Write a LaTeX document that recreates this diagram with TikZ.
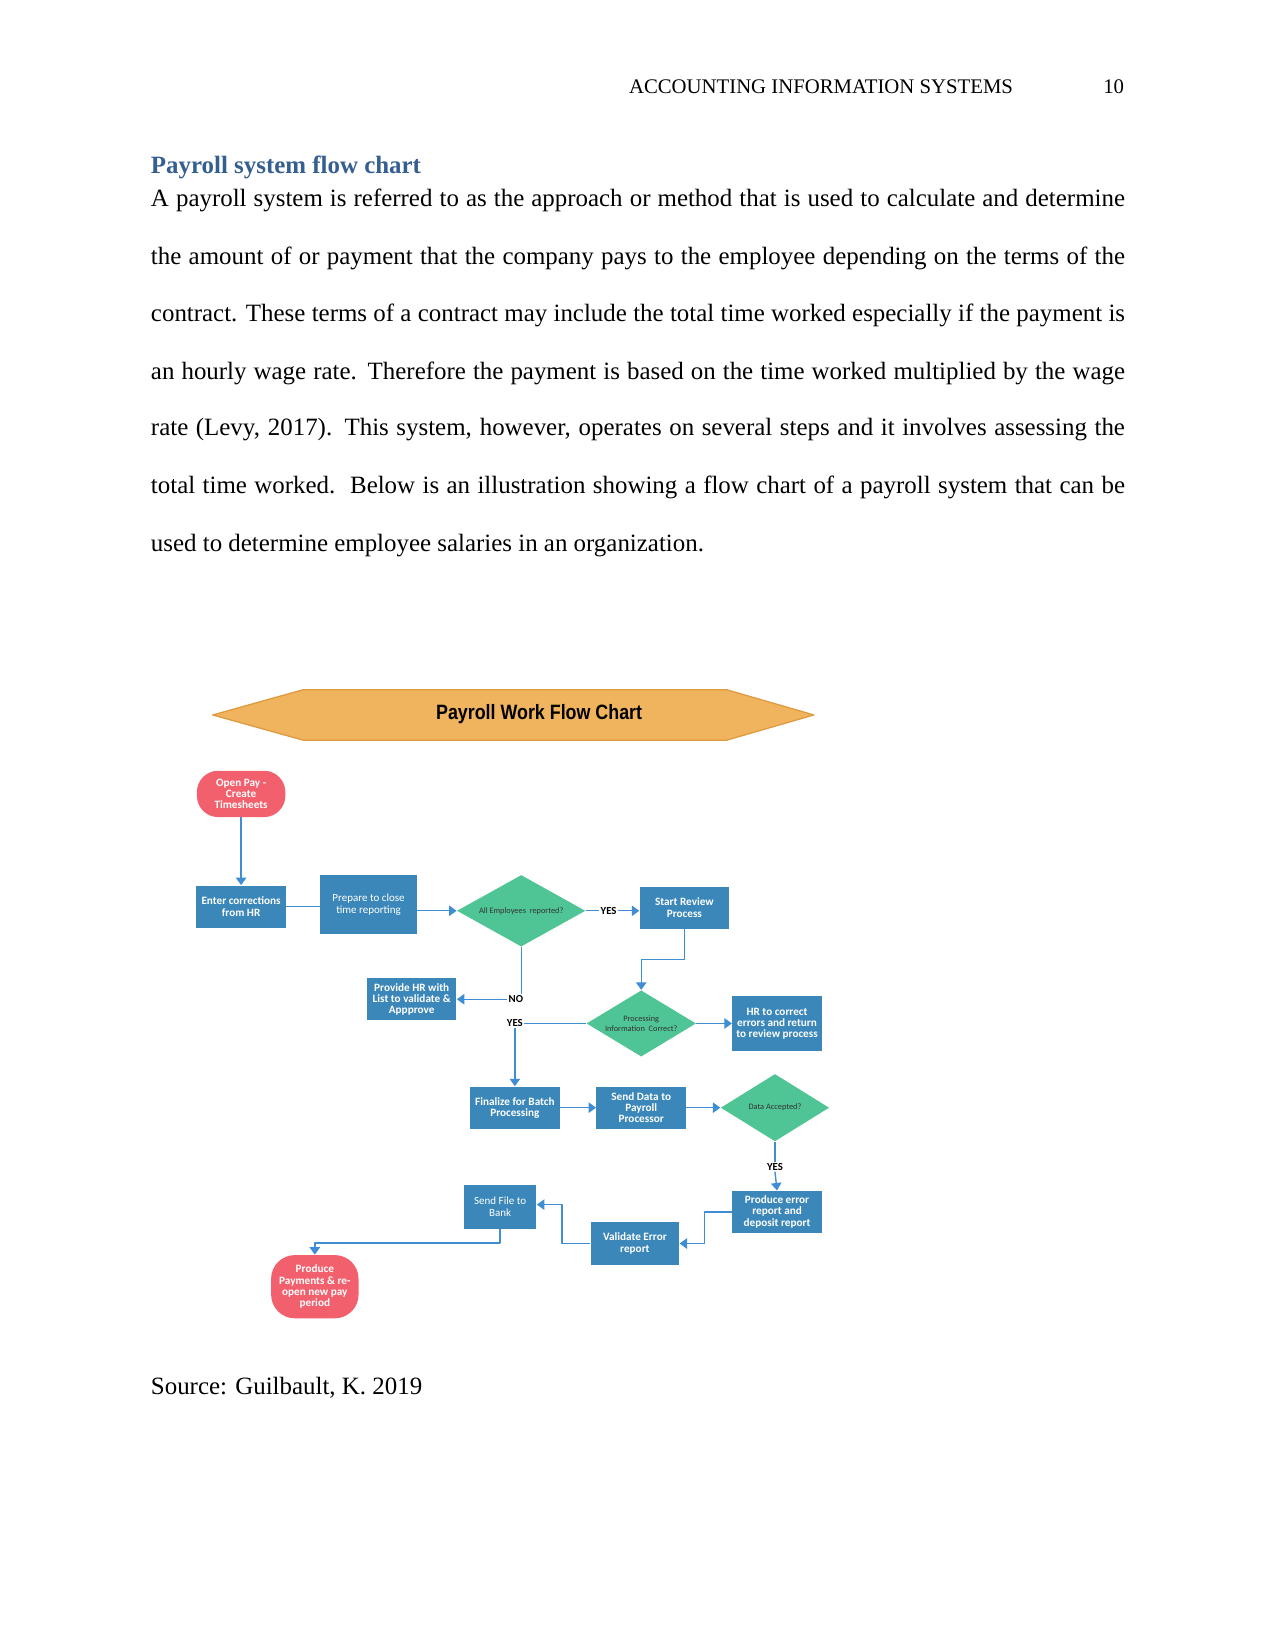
\documentclass[tikz,border=0pt]{standalone}
\usepackage{fontspec}
\setmainfont{Liberation Serif}
\newfontfamily\chartfont{Carlito}
\newfontfamily\bannerfont{Liberation Sans}
\usepackage{xcolor}
\usetikzlibrary{arrows.meta,calc,shapes.geometric}
\definecolor{boxblue}{HTML}{3B87B9}
\definecolor{mintgreen}{HTML}{4FC495}
\definecolor{pinkred}{HTML}{F2606D}
\definecolor{flowblue}{HTML}{3F8DD2}
\definecolor{bannerfill}{HTML}{F0B35E}
\definecolor{bannerline}{HTML}{DD9A3E}
\definecolor{headblue}{HTML}{365F91}
\newcommand{\bodyline}[1]{\makebox[164.9mm][s]{#1}}

\begin{document}
\begin{tikzpicture}[x=0.17827mm,y=-0.17827mm,>={Triangle[length=3.6pt,width=5pt]},line join=round,
  proc/.style={rectangle,fill=boxblue,text=white,align=center,inner sep=1pt,
    font=\chartfont\bfseries\fontsize{5.4}{5.4}\selectfont,minimum width=15.15mm,minimum height=7.13mm},
  plain/.style={proc,font=\chartfont\fontsize{5.3}{6}\selectfont},
  terminal/.style={proc,fill=pinkred,rounded corners=3.6mm},
  decision/.style={diamond,fill=mintgreen,text=black!80,align=center,inner sep=0pt,
    font=\chartfont\fontsize{4}{4.8}\selectfont},
  answer/.style={inner sep=0.5pt,font=\chartfont\bfseries\fontsize{5.2}{5.2}\selectfont},
  flow/.style={->,flowblue,line width=0.65pt},
  link/.style={flowblue,line width=0.65pt},
  bodytext/.style={anchor=base west,inner sep=0pt,font=\fontsize{12}{14}\selectfont}]
  \fill[white] (0,0) rectangle (1211,1568);
  \useasboundingbox (0,0) rectangle (1211,1568);

  \node[anchor=base west,inner sep=0pt,font=\fontsize{10}{12}\selectfont] (header) at (597,89) {ACCOUNTING INFORMATION SYSTEMS};
  \node[anchor=base east,inner sep=0pt,font=\fontsize{10}{12}\selectfont] (pagenum) at (1068,89) {10};
  \node[anchor=base west,inner sep=0pt,font=\fontsize{12}{14}\selectfont\bfseries,text=headblue] (heading) at (143,165) {Payroll system flow chart};
  \node[bodytext] (line1) at (143,196) {\bodyline{A payroll system is referred to as the approach or method that is used to calculate and determine}};
  \node[bodytext] (line2) at (143,251) {\bodyline{the amount of or payment that the company pays to the employee depending on the terms of the}};
  \node[bodytext] (line3) at (143,305) {\bodyline{contract. These terms of a contract may include the total time worked especially if the payment is}};
  \node[bodytext] (line4) at (143,360) {\bodyline{an hourly wage rate. Therefore the payment is based on the time worked multiplied by the wage}};
  \node[bodytext] (line5) at (143,414) {\bodyline{rate (Levy, 2017). This system, however, operates on several steps and it involves assessing the}};
  \node[bodytext] (line6) at (143,469) {\bodyline{total time worked.\ \ Below is an illustration showing a flow chart of a payroll system that can be}};
  \node[bodytext] (line7) at (143,524) {used to determine employee salaries in an organization.};

  \draw[fill=bannerfill,draw=bannerline,line width=0.6pt] (202,679) -- (288,655) -- (690,655) -- (773,679) -- (690,703) -- (288,703) -- cycle;
  \node[font=\bannerfont\bfseries\fontsize{10}{11}\selectfont] (banner) at (512,678) {\scalebox{0.86}[1]{Payroll Work Flow Chart}};

  \node[terminal,minimum width=14.97mm,minimum height=7.84mm] (openpay) at (229,754) {Open Pay -\\Create\\Timesheets};
  \node[proc] (enter) at (229,861) {Enter corrections\\from HR};
  \node[plain,minimum width=16.4mm,minimum height=9.98mm] (prepare) at (350,859) {Prepare to close\\time reporting};
  \node[decision,shape aspect=1.8,minimum width=21.75mm,minimum height=12.12mm] (allemp) at (495,865) {All Employees\ \ reported?};
  \node[answer] (yesone) at (578,865) {YES};
  \node[proc] (start) at (650,862) {Start Review\\Process};
  \node[answer] (no) at (490,949) {NO};
  \node[proc] (provide) at (391,949) {Provide HR with\\List to validate \&\\Appprove};
  \node[decision,shape aspect=1.65,minimum width=18.54mm,minimum height=11.23mm] (procinfo) at (609,972) {Processing\\Information\ \ Correct?};
  \node[answer] (yestwo) at (489,972) {YES};
  \node[proc,minimum height=9.27mm] (hrfix) at (738,972) {HR to correct\\errors and return\\to review process};
  \node[proc] (finalize) at (489,1052) {Finalize for Batch\\Processing};
  \node[proc] (senddata) at (609,1052) {Send Data to\\Payroll\\Processor};
  \node[decision,shape aspect=1.6,minimum width=18.36mm,minimum height=11.41mm] (accepted) at (736,1052) {Data Accepted?};
  \node[answer] (yesthree) at (736,1108) {YES};
  \node[proc] (errreport) at (738,1151) {Produce error\\report and\\deposit report};
  \node[proc,minimum width=14.97mm] (validate) at (603,1181) {Validate Error\\report};
  \node[plain,minimum width=12.3mm,minimum height=7.49mm] (sendfile) at (475,1146) {Send File to\\Bank};
  \node[terminal,minimum width=14.8mm,minimum height=10.7mm,rounded corners=4mm] (payments) at (299,1222) {Produce\\Payments \& re-\\open new pay\\period};

  \draw[flow] (openpay) -- (enter);
  \draw[link] (enter.east) -- (enter.east -| prepare.west);
  \draw[flow] (prepare.east |- allemp.west) -- (allemp.west);
  \draw[link] (allemp.east) -- (yesone.west);
  \draw[flow] (yesone.east) -- (yesone.east -| start.west);
  \draw[flow] (start.south) -- ++(0,29) -| (procinfo.north);
  \draw[link] (allemp.south) -- (allemp.south |- no.north);
  \draw[flow] (no.west) -- (no.west -| provide.east);
  \draw[link] (procinfo.west) -- (procinfo.west -| yestwo.east);
  \draw[flow] (yestwo.south) -- (finalize.north);
  \draw[flow] (procinfo.east) -- (procinfo.east -| hrfix.west);
  \draw[flow] (finalize.east) -- (senddata.west);
  \draw[flow] (senddata.east) -- (senddata.east -| accepted.west);
  \draw[link] (accepted.south) -- (yesthree.north);
  \draw[flow] (yesthree.south) -- (errreport.north);
  \draw[flow] (errreport.west) -- ++(-26,0) |- (validate.east);
  \draw[flow] (validate.west) -- ++(-27,0) |- ([yshift=0.35mm]sendfile.east);
  \draw[flow] (sendfile.south) -- ++(0,13) -| (payments.north);

  \node[anchor=base west,inner sep=0pt,font=\fontsize{12}{14}\selectfont] (source) at (143,1324) {Source: Guilbault, K. 2019};
\end{tikzpicture}
\end{document}
